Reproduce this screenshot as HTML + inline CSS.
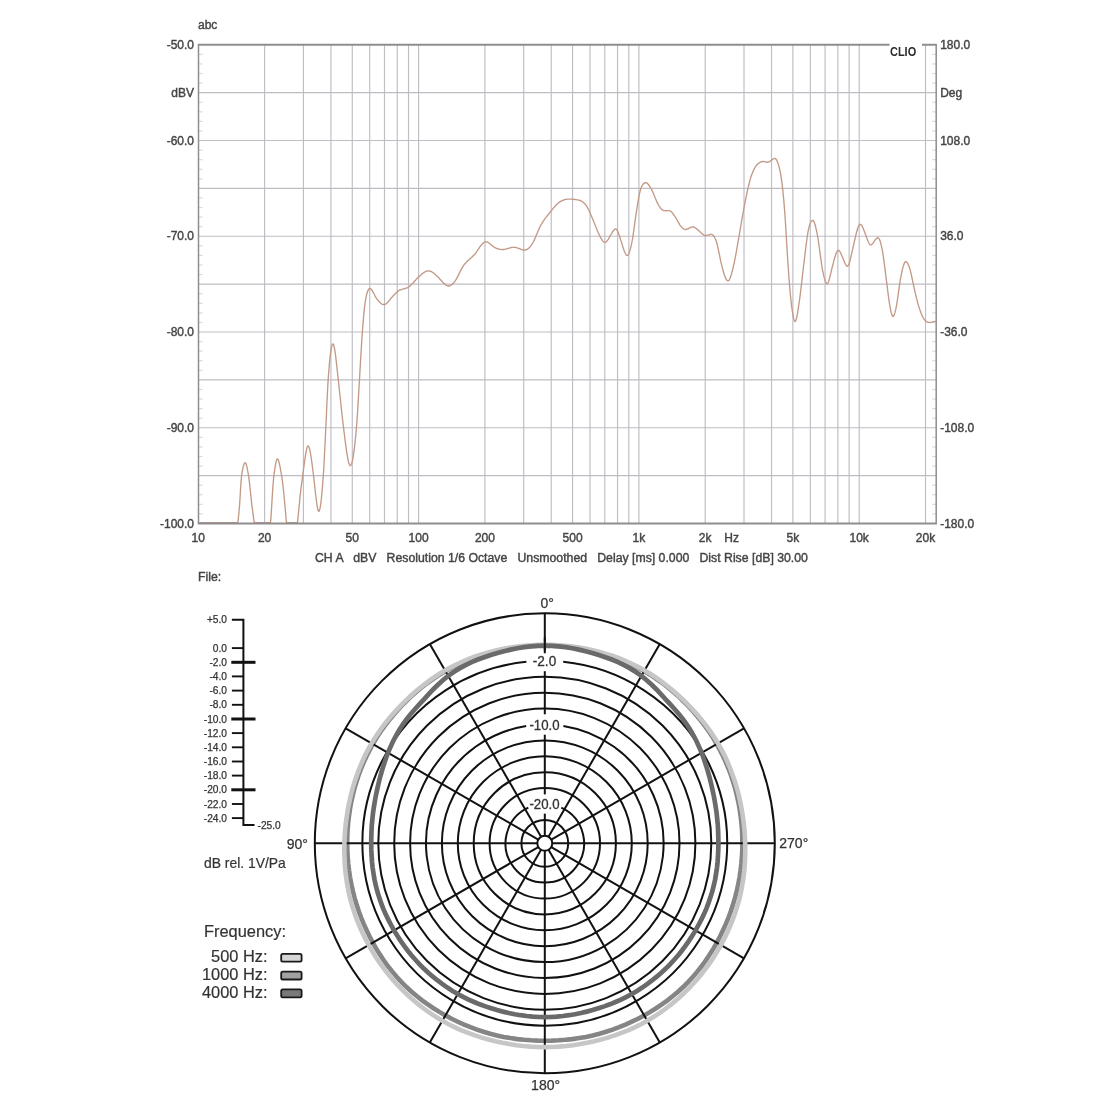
<!DOCTYPE html>
<html lang="en"><head><meta charset="utf-8"><title>CLIO frequency response and polar pattern</title>
<style>html,body{margin:0;padding:0;background:#fff}body{width:1100px;height:1100px;overflow:hidden}svg{display:block}.b1{filter:blur(0.6px)}.b2{filter:blur(0.4px)}</style>
</head><body>
<svg width="1100" height="1100" viewBox="0 0 1100 1100">
<rect width="1100" height="1100" fill="#fff"/>
<g class="b1">
<g stroke="#bdbdc3" stroke-width="1.15" fill="none">
<line x1="198.5" y1="92.67" x2="936.2" y2="92.67"/>
<line x1="198.5" y1="140.54" x2="936.2" y2="140.54"/>
<line x1="198.5" y1="188.41" x2="936.2" y2="188.41"/>
<line x1="198.5" y1="236.28" x2="936.2" y2="236.28"/>
<line x1="198.5" y1="284.15" x2="936.2" y2="284.15"/>
<line x1="198.5" y1="332.02" x2="936.2" y2="332.02"/>
<line x1="198.5" y1="379.89" x2="936.2" y2="379.89"/>
<line x1="198.5" y1="427.76" x2="936.2" y2="427.76"/>
<line x1="198.5" y1="475.63" x2="936.2" y2="475.63"/>
<line x1="264.62" y1="44.8" x2="264.62" y2="523.5"/>
<line x1="303.41" y1="44.8" x2="303.41" y2="523.5"/>
<line x1="330.93" y1="44.8" x2="330.93" y2="523.5"/>
<line x1="352.28" y1="44.8" x2="352.28" y2="523.5"/>
<line x1="369.73" y1="44.8" x2="369.73" y2="523.5"/>
<line x1="384.48" y1="44.8" x2="384.48" y2="523.5"/>
<line x1="397.25" y1="44.8" x2="397.25" y2="523.5"/>
<line x1="408.52" y1="44.8" x2="408.52" y2="523.5"/>
<line x1="418.60" y1="44.8" x2="418.60" y2="523.5"/>
<line x1="484.92" y1="44.8" x2="484.92" y2="523.5"/>
<line x1="523.71" y1="44.8" x2="523.71" y2="523.5"/>
<line x1="551.23" y1="44.8" x2="551.23" y2="523.5"/>
<line x1="572.58" y1="44.8" x2="572.58" y2="523.5"/>
<line x1="590.03" y1="44.8" x2="590.03" y2="523.5"/>
<line x1="604.78" y1="44.8" x2="604.78" y2="523.5"/>
<line x1="617.55" y1="44.8" x2="617.55" y2="523.5"/>
<line x1="628.82" y1="44.8" x2="628.82" y2="523.5"/>
<line x1="638.90" y1="44.8" x2="638.90" y2="523.5"/>
<line x1="705.22" y1="44.8" x2="705.22" y2="523.5"/>
<line x1="744.01" y1="44.8" x2="744.01" y2="523.5"/>
<line x1="771.53" y1="44.8" x2="771.53" y2="523.5"/>
<line x1="792.88" y1="44.8" x2="792.88" y2="523.5"/>
<line x1="810.33" y1="44.8" x2="810.33" y2="523.5"/>
<line x1="825.08" y1="44.8" x2="825.08" y2="523.5"/>
<line x1="837.85" y1="44.8" x2="837.85" y2="523.5"/>
<line x1="849.12" y1="44.8" x2="849.12" y2="523.5"/>
<line x1="859.20" y1="44.8" x2="859.20" y2="523.5"/>
<line x1="925.52" y1="44.8" x2="925.52" y2="523.5"/>
</g>
<g stroke="#dadada" stroke-width="1.2">
<line x1="198.5" y1="54.37" x2="202.5" y2="54.37"/>
<line x1="932.2" y1="54.37" x2="936.2" y2="54.37"/>
<line x1="198.5" y1="63.95" x2="202.5" y2="63.95"/>
<line x1="932.2" y1="63.95" x2="936.2" y2="63.95"/>
<line x1="198.5" y1="73.52" x2="202.5" y2="73.52"/>
<line x1="932.2" y1="73.52" x2="936.2" y2="73.52"/>
<line x1="198.5" y1="83.10" x2="202.5" y2="83.10"/>
<line x1="932.2" y1="83.10" x2="936.2" y2="83.10"/>
<line x1="198.5" y1="102.24" x2="202.5" y2="102.24"/>
<line x1="932.2" y1="102.24" x2="936.2" y2="102.24"/>
<line x1="198.5" y1="111.82" x2="202.5" y2="111.82"/>
<line x1="932.2" y1="111.82" x2="936.2" y2="111.82"/>
<line x1="198.5" y1="121.39" x2="202.5" y2="121.39"/>
<line x1="932.2" y1="121.39" x2="936.2" y2="121.39"/>
<line x1="198.5" y1="130.97" x2="202.5" y2="130.97"/>
<line x1="932.2" y1="130.97" x2="936.2" y2="130.97"/>
<line x1="198.5" y1="150.11" x2="202.5" y2="150.11"/>
<line x1="932.2" y1="150.11" x2="936.2" y2="150.11"/>
<line x1="198.5" y1="159.69" x2="202.5" y2="159.69"/>
<line x1="932.2" y1="159.69" x2="936.2" y2="159.69"/>
<line x1="198.5" y1="169.26" x2="202.5" y2="169.26"/>
<line x1="932.2" y1="169.26" x2="936.2" y2="169.26"/>
<line x1="198.5" y1="178.84" x2="202.5" y2="178.84"/>
<line x1="932.2" y1="178.84" x2="936.2" y2="178.84"/>
<line x1="198.5" y1="197.98" x2="202.5" y2="197.98"/>
<line x1="932.2" y1="197.98" x2="936.2" y2="197.98"/>
<line x1="198.5" y1="207.56" x2="202.5" y2="207.56"/>
<line x1="932.2" y1="207.56" x2="936.2" y2="207.56"/>
<line x1="198.5" y1="217.13" x2="202.5" y2="217.13"/>
<line x1="932.2" y1="217.13" x2="936.2" y2="217.13"/>
<line x1="198.5" y1="226.71" x2="202.5" y2="226.71"/>
<line x1="932.2" y1="226.71" x2="936.2" y2="226.71"/>
<line x1="198.5" y1="245.85" x2="202.5" y2="245.85"/>
<line x1="932.2" y1="245.85" x2="936.2" y2="245.85"/>
<line x1="198.5" y1="255.43" x2="202.5" y2="255.43"/>
<line x1="932.2" y1="255.43" x2="936.2" y2="255.43"/>
<line x1="198.5" y1="265.00" x2="202.5" y2="265.00"/>
<line x1="932.2" y1="265.00" x2="936.2" y2="265.00"/>
<line x1="198.5" y1="274.58" x2="202.5" y2="274.58"/>
<line x1="932.2" y1="274.58" x2="936.2" y2="274.58"/>
<line x1="198.5" y1="293.72" x2="202.5" y2="293.72"/>
<line x1="932.2" y1="293.72" x2="936.2" y2="293.72"/>
<line x1="198.5" y1="303.30" x2="202.5" y2="303.30"/>
<line x1="932.2" y1="303.30" x2="936.2" y2="303.30"/>
<line x1="198.5" y1="312.87" x2="202.5" y2="312.87"/>
<line x1="932.2" y1="312.87" x2="936.2" y2="312.87"/>
<line x1="198.5" y1="322.45" x2="202.5" y2="322.45"/>
<line x1="932.2" y1="322.45" x2="936.2" y2="322.45"/>
<line x1="198.5" y1="341.59" x2="202.5" y2="341.59"/>
<line x1="932.2" y1="341.59" x2="936.2" y2="341.59"/>
<line x1="198.5" y1="351.17" x2="202.5" y2="351.17"/>
<line x1="932.2" y1="351.17" x2="936.2" y2="351.17"/>
<line x1="198.5" y1="360.74" x2="202.5" y2="360.74"/>
<line x1="932.2" y1="360.74" x2="936.2" y2="360.74"/>
<line x1="198.5" y1="370.32" x2="202.5" y2="370.32"/>
<line x1="932.2" y1="370.32" x2="936.2" y2="370.32"/>
<line x1="198.5" y1="389.46" x2="202.5" y2="389.46"/>
<line x1="932.2" y1="389.46" x2="936.2" y2="389.46"/>
<line x1="198.5" y1="399.04" x2="202.5" y2="399.04"/>
<line x1="932.2" y1="399.04" x2="936.2" y2="399.04"/>
<line x1="198.5" y1="408.61" x2="202.5" y2="408.61"/>
<line x1="932.2" y1="408.61" x2="936.2" y2="408.61"/>
<line x1="198.5" y1="418.19" x2="202.5" y2="418.19"/>
<line x1="932.2" y1="418.19" x2="936.2" y2="418.19"/>
<line x1="198.5" y1="437.33" x2="202.5" y2="437.33"/>
<line x1="932.2" y1="437.33" x2="936.2" y2="437.33"/>
<line x1="198.5" y1="446.91" x2="202.5" y2="446.91"/>
<line x1="932.2" y1="446.91" x2="936.2" y2="446.91"/>
<line x1="198.5" y1="456.48" x2="202.5" y2="456.48"/>
<line x1="932.2" y1="456.48" x2="936.2" y2="456.48"/>
<line x1="198.5" y1="466.06" x2="202.5" y2="466.06"/>
<line x1="932.2" y1="466.06" x2="936.2" y2="466.06"/>
<line x1="198.5" y1="485.20" x2="202.5" y2="485.20"/>
<line x1="932.2" y1="485.20" x2="936.2" y2="485.20"/>
<line x1="198.5" y1="494.78" x2="202.5" y2="494.78"/>
<line x1="932.2" y1="494.78" x2="936.2" y2="494.78"/>
<line x1="198.5" y1="504.35" x2="202.5" y2="504.35"/>
<line x1="932.2" y1="504.35" x2="936.2" y2="504.35"/>
<line x1="198.5" y1="513.93" x2="202.5" y2="513.93"/>
<line x1="932.2" y1="513.93" x2="936.2" y2="513.93"/>
</g>
<path d="M198.5,522.6 L199.0,522.6 L199.5,522.6 L200.0,522.6 L200.5,522.6 L201.0,522.6 L201.5,522.6 L202.0,522.6 L202.5,522.6 L203.0,522.6 L203.5,522.6 L204.0,522.6 L204.5,522.6 L205.0,522.6 L205.5,522.6 L206.0,522.6 L206.5,522.6 L207.0,522.6 L207.5,522.6 L208.0,522.6 L208.5,522.6 L209.0,522.6 L209.5,522.6 L210.0,522.6 L210.5,522.6 L211.0,522.6 L211.5,522.6 L212.0,522.6 L212.5,522.6 L213.0,522.6 L213.5,522.6 L214.0,522.6 L214.5,522.6 L215.0,522.6 L215.5,522.6 L216.0,522.6 L216.5,522.6 L217.0,522.6 L217.5,522.6 L218.0,522.6 L218.5,522.6 L219.0,522.6 L219.5,522.6 L220.0,522.6 L220.5,522.6 L221.0,522.6 L221.5,522.6 L222.0,522.6 L222.5,522.6 L223.0,522.6 L223.5,522.6 L224.0,522.6 L224.5,522.6 L225.0,522.6 L225.5,522.6 L226.0,522.6 L226.5,522.6 L227.0,522.6 L227.5,522.6 L228.0,522.6 L228.5,522.6 L229.0,522.6 L229.5,522.6 L230.0,522.6 L230.5,522.6 L231.0,522.6 L231.5,522.6 L232.0,522.6 L232.5,522.6 L233.0,522.6 L233.5,522.6 L234.0,522.6 L234.5,522.6 L235.0,522.6 L235.5,522.6 L236.0,522.6 L236.5,522.6 L237.0,522.6 L237.5,522.6 L238.0,521.3 L238.5,516.6 L239.0,511.7 L239.5,506.1 L240.0,498.5 L240.5,490.0 L241.0,482.0 L241.5,476.3 L242.0,472.9 L242.5,470.1 L243.0,467.6 L243.5,465.7 L244.0,464.2 L244.5,463.2 L245.0,462.7 L245.5,462.8 L246.0,463.7 L246.5,465.3 L247.0,467.4 L247.5,469.9 L248.0,472.6 L248.5,475.5 L249.0,478.9 L249.5,483.0 L250.0,487.6 L250.5,492.5 L251.0,497.3 L251.5,501.9 L252.0,506.0 L252.5,509.9 L253.0,513.7 L253.5,517.6 L254.0,521.7 L254.5,522.6 L255.0,522.6 L255.5,522.6 L256.0,522.6 L256.5,522.6 L257.0,522.6 L257.5,522.6 L258.0,522.6 L258.5,522.6 L259.0,522.6 L259.5,522.6 L260.0,522.6 L260.5,522.6 L261.0,522.6 L261.5,522.6 L262.0,522.6 L262.5,522.6 L263.0,522.6 L263.5,522.6 L264.0,522.6 L264.5,522.6 L265.0,522.6 L265.5,522.6 L266.0,522.6 L266.5,522.6 L267.0,522.6 L267.5,522.6 L268.0,522.6 L268.5,522.6 L269.0,522.6 L269.5,522.6 L270.0,522.6 L270.5,522.6 L271.0,516.6 L271.5,508.9 L272.0,500.8 L272.5,492.7 L273.0,485.4 L273.5,479.2 L274.0,474.7 L274.5,471.1 L275.0,467.7 L275.5,464.7 L276.0,462.2 L276.5,460.3 L277.0,459.2 L277.5,458.9 L278.0,459.4 L278.5,460.5 L279.0,462.1 L279.5,464.2 L280.0,466.6 L280.5,469.3 L281.0,472.1 L281.5,474.9 L282.0,478.0 L282.5,481.6 L283.0,485.8 L283.5,490.5 L284.0,495.5 L284.5,500.8 L285.0,506.3 L285.5,512.0 L286.0,517.7 L286.5,522.6 L287.0,522.6 L287.5,522.6 L288.0,522.6 L288.5,522.6 L289.0,522.6 L289.5,522.6 L290.0,522.6 L290.5,522.6 L291.0,522.6 L291.5,522.6 L292.0,522.6 L292.5,522.6 L293.0,522.6 L293.5,522.6 L294.0,522.6 L294.5,522.6 L295.0,522.6 L295.5,522.6 L296.0,522.6 L296.5,522.6 L297.0,522.6 L297.5,522.6 L298.0,518.0 L298.5,512.7 L299.0,507.6 L299.5,502.6 L300.0,496.9 L300.5,492.5 L301.0,488.4 L301.5,484.4 L302.0,480.6 L302.5,477.0 L303.0,473.3 L303.5,469.5 L304.0,465.8 L304.5,462.1 L305.0,458.5 L305.5,455.2 L306.0,452.3 L306.5,449.8 L307.0,447.8 L307.5,446.5 L308.0,445.9 L308.5,446.1 L309.0,447.0 L309.5,448.6 L310.0,450.8 L310.5,453.4 L311.0,456.5 L311.5,460.0 L312.0,463.7 L312.5,467.5 L313.0,471.5 L313.5,475.5 L314.0,479.7 L314.5,484.1 L315.0,488.7 L315.5,493.2 L316.0,497.5 L316.5,501.5 L317.0,505.1 L317.5,508.0 L318.0,510.1 L318.5,511.2 L319.0,511.3 L319.5,510.4 L320.0,508.4 L320.5,505.5 L321.0,501.8 L321.5,497.3 L322.0,492.0 L322.5,486.1 L323.0,479.6 L323.5,472.5 L324.0,464.2 L324.5,454.7 L325.0,444.5 L325.5,434.1 L326.0,423.7 L326.5,412.6 L327.0,401.6 L327.5,391.2 L328.0,382.2 L328.5,374.8 L329.0,368.3 L329.5,362.6 L330.0,357.6 L330.5,353.3 L331.0,349.9 L331.5,347.2 L332.0,345.3 L332.5,344.2 L333.0,344.0 L333.5,344.5 L334.0,346.0 L334.5,348.4 L335.0,351.4 L335.5,355.0 L336.0,359.1 L336.5,363.5 L337.0,368.1 L337.5,372.7 L338.0,377.3 L338.5,381.8 L339.0,386.4 L339.5,391.0 L340.0,395.7 L340.5,400.5 L341.0,405.2 L341.5,409.9 L342.0,414.4 L342.5,418.9 L343.0,423.3 L343.5,427.4 L344.0,431.4 L344.5,435.4 L345.0,439.4 L345.5,443.3 L346.0,447.1 L346.5,450.7 L347.0,454.0 L347.5,457.0 L348.0,459.6 L348.5,461.9 L349.0,463.6 L349.5,464.8 L350.0,465.5 L350.5,465.6 L351.0,465.1 L351.5,464.0 L352.0,462.5 L352.5,460.4 L353.0,457.8 L353.5,454.7 L354.0,451.2 L354.5,447.2 L355.0,442.8 L355.5,437.9 L356.0,432.7 L356.5,427.0 L357.0,420.5 L357.5,413.0 L358.0,404.9 L358.5,396.4 L359.0,387.7 L359.5,379.1 L360.0,370.5 L360.5,361.8 L361.0,353.2 L361.5,345.0 L362.0,337.3 L362.5,330.4 L363.0,323.9 L363.5,317.8 L364.0,312.3 L364.5,307.4 L365.0,303.3 L365.5,300.0 L366.0,297.4 L366.5,295.1 L367.0,293.2 L367.5,291.7 L368.0,290.4 L368.5,289.5 L369.0,288.9 L369.5,288.6 L370.0,288.5 L370.5,288.7 L371.0,289.0 L371.5,289.6 L372.0,290.3 L372.5,291.0 L373.0,291.9 L373.5,292.8 L374.0,293.8 L374.5,294.8 L375.0,295.8 L375.5,296.7 L376.0,297.6 L376.5,298.3 L377.0,299.1 L377.5,299.8 L378.0,300.4 L378.5,301.0 L379.0,301.6 L379.5,302.1 L380.0,302.6 L380.5,303.1 L381.0,303.5 L381.5,303.8 L382.0,304.1 L382.5,304.3 L383.0,304.4 L383.5,304.5 L384.0,304.6 L384.5,304.5 L385.0,304.4 L385.5,304.2 L386.0,303.9 L386.5,303.5 L387.0,303.1 L387.5,302.6 L388.0,302.1 L388.5,301.5 L389.0,300.9 L389.5,300.3 L390.0,299.7 L390.5,299.1 L391.0,298.4 L391.5,297.8 L392.0,297.2 L392.5,296.6 L393.0,296.1 L393.5,295.5 L394.0,295.0 L394.5,294.4 L395.0,293.9 L395.5,293.4 L396.0,292.9 L396.5,292.4 L397.0,291.9 L397.5,291.5 L398.0,291.1 L398.5,290.8 L399.0,290.5 L399.5,290.2 L400.0,290.0 L400.5,289.8 L401.0,289.6 L401.5,289.5 L402.0,289.3 L402.5,289.2 L403.0,289.1 L403.5,288.9 L404.0,288.8 L404.5,288.7 L405.0,288.5 L405.5,288.4 L406.0,288.2 L406.5,288.1 L407.0,287.9 L407.5,287.7 L408.0,287.4 L408.5,287.1 L409.0,286.8 L409.5,286.4 L410.0,286.0 L410.5,285.6 L411.0,285.1 L411.5,284.6 L412.0,284.1 L412.5,283.6 L413.0,283.0 L413.5,282.5 L414.0,281.9 L414.5,281.3 L415.0,280.7 L415.5,280.2 L416.0,279.6 L416.5,279.0 L417.0,278.5 L417.5,278.0 L418.0,277.5 L418.5,277.0 L419.0,276.5 L419.5,276.1 L420.0,275.6 L420.5,275.2 L421.0,274.7 L421.5,274.3 L422.0,273.9 L422.5,273.5 L423.0,273.1 L423.5,272.8 L424.0,272.4 L424.5,272.1 L425.0,271.9 L425.5,271.6 L426.0,271.4 L426.5,271.2 L427.0,271.1 L427.5,271.0 L428.0,270.9 L428.5,270.9 L429.0,270.9 L429.5,271.0 L430.0,271.1 L430.5,271.3 L431.0,271.5 L431.5,271.7 L432.0,272.0 L432.5,272.3 L433.0,272.7 L433.5,273.0 L434.0,273.4 L434.5,273.9 L435.0,274.3 L435.5,274.7 L436.0,275.2 L436.5,275.7 L437.0,276.1 L437.5,276.6 L438.0,277.1 L438.5,277.6 L439.0,278.1 L439.5,278.6 L440.0,279.2 L440.5,279.7 L441.0,280.3 L441.5,280.8 L442.0,281.4 L442.5,281.9 L443.0,282.4 L443.5,283.0 L444.0,283.4 L444.5,283.9 L445.0,284.3 L445.5,284.7 L446.0,285.1 L446.5,285.4 L447.0,285.6 L447.5,285.8 L448.0,285.9 L448.5,286.0 L449.0,286.0 L449.5,285.9 L450.0,285.7 L450.5,285.5 L451.0,285.2 L451.5,284.9 L452.0,284.5 L452.5,284.0 L453.0,283.5 L453.5,283.0 L454.0,282.4 L454.5,281.8 L455.0,281.1 L455.5,280.4 L456.0,279.6 L456.5,278.7 L457.0,277.8 L457.5,276.9 L458.0,275.9 L458.5,274.9 L459.0,273.9 L459.5,272.9 L460.0,271.9 L460.5,270.9 L461.0,269.9 L461.5,269.0 L462.0,268.1 L462.5,267.2 L463.0,266.4 L463.5,265.6 L464.0,264.9 L464.5,264.3 L465.0,263.7 L465.5,263.1 L466.0,262.5 L466.5,262.0 L467.0,261.5 L467.5,261.0 L468.0,260.6 L468.5,260.1 L469.0,259.7 L469.5,259.2 L470.0,258.8 L470.5,258.4 L471.0,257.9 L471.5,257.5 L472.0,257.0 L472.5,256.6 L473.0,256.1 L473.5,255.6 L474.0,255.1 L474.5,254.5 L475.0,253.9 L475.5,253.3 L476.0,252.6 L476.5,251.9 L477.0,251.2 L477.5,250.4 L478.0,249.7 L478.5,248.9 L479.0,248.2 L479.5,247.5 L480.0,246.7 L480.5,246.0 L481.0,245.4 L481.5,244.8 L482.0,244.2 L482.5,243.6 L483.0,243.2 L483.5,242.7 L484.0,242.4 L484.5,242.1 L485.0,241.9 L485.5,241.8 L486.0,241.8 L486.5,241.8 L487.0,242.0 L487.5,242.1 L488.0,242.4 L488.5,242.7 L489.0,243.0 L489.5,243.4 L490.0,243.8 L490.5,244.2 L491.0,244.6 L491.5,245.0 L492.0,245.4 L492.5,245.9 L493.0,246.3 L493.5,246.6 L494.0,247.0 L494.5,247.3 L495.0,247.6 L495.5,247.8 L496.0,248.1 L496.5,248.3 L497.0,248.5 L497.5,248.7 L498.0,248.9 L498.5,249.0 L499.0,249.2 L499.5,249.3 L500.0,249.4 L500.5,249.4 L501.0,249.5 L501.5,249.5 L502.0,249.6 L502.5,249.6 L503.0,249.5 L503.5,249.5 L504.0,249.5 L504.5,249.4 L505.0,249.3 L505.5,249.2 L506.0,249.0 L506.5,248.9 L507.0,248.8 L507.5,248.6 L508.0,248.5 L508.5,248.3 L509.0,248.2 L509.5,248.0 L510.0,247.9 L510.5,247.8 L511.0,247.6 L511.5,247.5 L512.0,247.4 L512.5,247.4 L513.0,247.3 L513.5,247.3 L514.0,247.3 L514.5,247.3 L515.0,247.4 L515.5,247.4 L516.0,247.5 L516.5,247.7 L517.0,247.8 L517.5,248.0 L518.0,248.2 L518.5,248.3 L519.0,248.5 L519.5,248.7 L520.0,248.9 L520.5,249.1 L521.0,249.3 L521.5,249.5 L522.0,249.6 L522.5,249.8 L523.0,249.9 L523.5,250.0 L524.0,250.0 L524.5,250.0 L525.0,250.0 L525.5,250.0 L526.0,249.9 L526.5,249.7 L527.0,249.5 L527.5,249.2 L528.0,248.8 L528.5,248.4 L529.0,248.0 L529.5,247.4 L530.0,246.9 L530.5,246.2 L531.0,245.6 L531.5,244.9 L532.0,244.1 L532.5,243.3 L533.0,242.5 L533.5,241.6 L534.0,240.6 L534.5,239.5 L535.0,238.4 L535.5,237.2 L536.0,236.0 L536.5,234.8 L537.0,233.6 L537.5,232.4 L538.0,231.2 L538.5,230.0 L539.0,228.9 L539.5,227.8 L540.0,226.8 L540.5,225.8 L541.0,224.9 L541.5,224.1 L542.0,223.2 L542.5,222.4 L543.0,221.6 L543.5,220.8 L544.0,220.1 L544.5,219.4 L545.0,218.7 L545.5,218.0 L546.0,217.4 L546.5,216.7 L547.0,216.1 L547.5,215.5 L548.0,214.8 L548.5,214.2 L549.0,213.6 L549.5,213.0 L550.0,212.4 L550.5,211.7 L551.0,211.1 L551.5,210.5 L552.0,209.9 L552.5,209.2 L553.0,208.6 L553.5,208.0 L554.0,207.4 L554.5,206.9 L555.0,206.3 L555.5,205.7 L556.0,205.2 L556.5,204.7 L557.0,204.2 L557.5,203.7 L558.0,203.3 L558.5,202.9 L559.0,202.5 L559.5,202.1 L560.0,201.8 L560.5,201.5 L561.0,201.2 L561.5,201.0 L562.0,200.7 L562.5,200.5 L563.0,200.3 L563.5,200.1 L564.0,199.9 L564.5,199.7 L565.0,199.6 L565.5,199.5 L566.0,199.4 L566.5,199.3 L567.0,199.2 L567.5,199.1 L568.0,199.1 L568.5,199.1 L569.0,199.1 L569.5,199.1 L570.0,199.1 L570.5,199.1 L571.0,199.1 L571.5,199.1 L572.0,199.1 L572.5,199.2 L573.0,199.2 L573.5,199.3 L574.0,199.3 L574.5,199.4 L575.0,199.5 L575.5,199.5 L576.0,199.6 L576.5,199.7 L577.0,199.8 L577.5,199.9 L578.0,200.0 L578.5,200.1 L579.0,200.2 L579.5,200.3 L580.0,200.5 L580.5,200.7 L581.0,200.9 L581.5,201.2 L582.0,201.5 L582.5,201.8 L583.0,202.1 L583.5,202.5 L584.0,203.0 L584.5,203.4 L585.0,203.9 L585.5,204.5 L586.0,205.1 L586.5,205.9 L587.0,206.7 L587.5,207.5 L588.0,208.5 L588.5,209.5 L589.0,210.5 L589.5,211.6 L590.0,212.7 L590.5,213.9 L591.0,215.1 L591.5,216.3 L592.0,217.4 L592.5,218.6 L593.0,219.8 L593.5,221.0 L594.0,222.3 L594.5,223.5 L595.0,224.8 L595.5,226.1 L596.0,227.3 L596.5,228.6 L597.0,229.8 L597.5,231.0 L598.0,232.2 L598.5,233.3 L599.0,234.4 L599.5,235.4 L600.0,236.4 L600.5,237.3 L601.0,238.2 L601.5,239.1 L602.0,239.8 L602.5,240.6 L603.0,241.2 L603.5,241.7 L604.0,242.1 L604.5,242.3 L605.0,242.4 L605.5,242.3 L606.0,242.0 L606.5,241.6 L607.0,241.1 L607.5,240.4 L608.0,239.7 L608.5,238.9 L609.0,238.0 L609.5,237.1 L610.0,236.2 L610.5,235.3 L611.0,234.5 L611.5,233.7 L612.0,232.8 L612.5,232.0 L613.0,231.2 L613.5,230.6 L614.0,230.0 L614.5,229.5 L615.0,229.2 L615.5,229.0 L616.0,229.1 L616.5,229.4 L617.0,230.1 L617.5,231.0 L618.0,232.1 L618.5,233.4 L619.0,234.8 L619.5,236.3 L620.0,237.8 L620.5,239.4 L621.0,240.9 L621.5,242.4 L622.0,244.0 L622.5,245.6 L623.0,247.2 L623.5,248.7 L624.0,250.2 L624.5,251.5 L625.0,252.8 L625.5,253.8 L626.0,254.6 L626.5,255.2 L627.0,255.5 L627.5,255.4 L628.0,255.1 L628.5,254.3 L629.0,253.3 L629.5,251.9 L630.0,250.3 L630.5,248.5 L631.0,246.4 L631.5,244.1 L632.0,241.7 L632.5,238.9 L633.0,235.8 L633.5,232.4 L634.0,228.9 L634.5,225.2 L635.0,221.5 L635.5,217.9 L636.0,214.4 L636.5,211.2 L637.0,208.0 L637.5,204.9 L638.0,201.8 L638.5,198.9 L639.0,196.2 L639.5,193.8 L640.0,191.6 L640.5,189.7 L641.0,188.2 L641.5,187.0 L642.0,185.9 L642.5,185.0 L643.0,184.3 L643.5,183.7 L644.0,183.2 L644.5,182.9 L645.0,182.7 L645.5,182.7 L646.0,182.7 L646.5,182.9 L647.0,183.2 L647.5,183.6 L648.0,184.1 L648.5,184.7 L649.0,185.3 L649.5,186.1 L650.0,186.8 L650.5,187.7 L651.0,188.5 L651.5,189.4 L652.0,190.4 L652.5,191.4 L653.0,192.5 L653.5,193.7 L654.0,194.9 L654.5,196.1 L655.0,197.4 L655.5,198.6 L656.0,199.8 L656.5,201.0 L657.0,202.1 L657.5,203.2 L658.0,204.1 L658.5,205.0 L659.0,205.8 L659.5,206.6 L660.0,207.3 L660.5,208.0 L661.0,208.6 L661.5,209.2 L662.0,209.6 L662.5,210.0 L663.0,210.3 L663.5,210.5 L664.0,210.6 L664.5,210.6 L665.0,210.7 L665.5,210.7 L666.0,210.7 L666.5,210.7 L667.0,210.6 L667.5,210.6 L668.0,210.6 L668.5,210.6 L669.0,210.7 L669.5,210.8 L670.0,210.9 L670.5,211.1 L671.0,211.4 L671.5,211.9 L672.0,212.4 L672.5,212.9 L673.0,213.6 L673.5,214.3 L674.0,215.0 L674.5,215.8 L675.0,216.5 L675.5,217.3 L676.0,218.1 L676.5,219.0 L677.0,219.8 L677.5,220.8 L678.0,221.7 L678.5,222.6 L679.0,223.4 L679.5,224.3 L680.0,225.1 L680.5,225.8 L681.0,226.4 L681.5,227.0 L682.0,227.5 L682.5,228.0 L683.0,228.4 L683.5,228.8 L684.0,229.1 L684.5,229.3 L685.0,229.4 L685.5,229.5 L686.0,229.5 L686.5,229.4 L687.0,229.2 L687.5,229.0 L688.0,228.8 L688.5,228.5 L689.0,228.3 L689.5,228.0 L690.0,227.7 L690.5,227.5 L691.0,227.3 L691.5,227.1 L692.0,227.0 L692.5,226.9 L693.0,226.9 L693.5,227.0 L694.0,227.1 L694.5,227.4 L695.0,227.6 L695.5,228.0 L696.0,228.3 L696.5,228.7 L697.0,229.1 L697.5,229.6 L698.0,230.0 L698.5,230.5 L699.0,230.9 L699.5,231.3 L700.0,231.8 L700.5,232.3 L701.0,232.7 L701.5,233.2 L702.0,233.6 L702.5,234.1 L703.0,234.4 L703.5,234.8 L704.0,235.1 L704.5,235.3 L705.0,235.4 L705.5,235.5 L706.0,235.5 L706.5,235.4 L707.0,235.3 L707.5,235.2 L708.0,235.1 L708.5,234.9 L709.0,234.8 L709.5,234.6 L710.0,234.5 L710.5,234.4 L711.0,234.4 L711.5,234.4 L712.0,234.5 L712.5,234.8 L713.0,235.2 L713.5,235.7 L714.0,236.4 L714.5,237.2 L715.0,238.2 L715.5,239.3 L716.0,240.5 L716.5,242.0 L717.0,243.7 L717.5,245.8 L718.0,248.0 L718.5,250.3 L719.0,252.8 L719.5,255.2 L720.0,257.7 L720.5,260.1 L721.0,262.3 L721.5,264.4 L722.0,266.4 L722.5,268.3 L723.0,270.2 L723.5,272.0 L724.0,273.7 L724.5,275.2 L725.0,276.6 L725.5,277.9 L726.0,278.9 L726.5,279.8 L727.0,280.4 L727.5,280.8 L728.0,280.9 L728.5,280.8 L729.0,280.3 L729.5,279.5 L730.0,278.4 L730.5,277.1 L731.0,275.6 L731.5,273.9 L732.0,272.0 L732.5,270.1 L733.0,268.0 L733.5,265.9 L734.0,263.7 L734.5,261.4 L735.0,258.9 L735.5,256.3 L736.0,253.6 L736.5,250.8 L737.0,247.9 L737.5,245.1 L738.0,242.2 L738.5,239.3 L739.0,236.4 L739.5,233.5 L740.0,230.6 L740.5,227.7 L741.0,224.8 L741.5,221.9 L742.0,219.0 L742.5,216.1 L743.0,213.3 L743.5,210.5 L744.0,207.8 L744.5,205.1 L745.0,202.5 L745.5,200.0 L746.0,197.6 L746.5,195.2 L747.0,192.8 L747.5,190.5 L748.0,188.3 L748.5,186.1 L749.0,184.0 L749.5,182.1 L750.0,180.2 L750.5,178.4 L751.0,176.8 L751.5,175.3 L752.0,174.0 L752.5,172.7 L753.0,171.5 L753.5,170.4 L754.0,169.4 L754.5,168.4 L755.0,167.5 L755.5,166.7 L756.0,166.0 L756.5,165.3 L757.0,164.7 L757.5,164.2 L758.0,163.8 L758.5,163.4 L759.0,163.0 L759.5,162.7 L760.0,162.4 L760.5,162.1 L761.0,161.9 L761.5,161.7 L762.0,161.6 L762.5,161.5 L763.0,161.5 L763.5,161.5 L764.0,161.6 L764.5,161.7 L765.0,161.8 L765.5,161.9 L766.0,162.0 L766.5,162.2 L767.0,162.2 L767.5,162.3 L768.0,162.2 L768.5,162.1 L769.0,161.9 L769.5,161.6 L770.0,161.3 L770.5,160.9 L771.0,160.5 L771.5,160.1 L772.0,159.7 L772.5,159.3 L773.0,159.0 L773.5,158.7 L774.0,158.6 L774.5,158.5 L775.0,158.5 L775.5,158.7 L776.0,159.1 L776.5,159.8 L777.0,160.7 L777.5,161.9 L778.0,163.3 L778.5,164.9 L779.0,166.7 L779.5,168.7 L780.0,170.9 L780.5,173.4 L781.0,176.3 L781.5,179.6 L782.0,183.4 L782.5,187.6 L783.0,192.2 L783.5,197.4 L784.0,202.9 L784.5,209.0 L785.0,215.8 L785.5,223.4 L786.0,231.6 L786.5,240.0 L787.0,248.5 L787.5,256.7 L788.0,264.4 L788.5,271.5 L789.0,278.2 L789.5,284.5 L790.0,290.4 L790.5,295.8 L791.0,300.7 L791.5,305.0 L792.0,308.7 L792.5,312.1 L793.0,315.1 L793.5,317.7 L794.0,319.7 L794.5,321.0 L795.0,321.5 L795.5,321.1 L796.0,320.0 L796.5,318.3 L797.0,316.0 L797.5,313.2 L798.0,310.2 L798.5,306.9 L799.0,303.6 L799.5,300.1 L800.0,296.3 L800.5,292.4 L801.0,288.2 L801.5,283.9 L802.0,279.6 L802.5,275.2 L803.0,270.8 L803.5,266.5 L804.0,262.3 L804.5,258.2 L805.0,254.2 L805.5,250.1 L806.0,246.1 L806.5,242.2 L807.0,238.5 L807.5,235.1 L808.0,232.1 L808.5,229.4 L809.0,227.3 L809.5,225.5 L810.0,224.0 L810.5,222.8 L811.0,221.8 L811.5,221.0 L812.0,220.6 L812.5,220.4 L813.0,220.5 L813.5,220.9 L814.0,221.8 L814.5,223.0 L815.0,224.5 L815.5,226.3 L816.0,228.3 L816.5,230.6 L817.0,233.0 L817.5,235.6 L818.0,238.5 L818.5,241.8 L819.0,245.3 L819.5,249.0 L820.0,252.8 L820.5,256.6 L821.0,260.2 L821.5,263.7 L822.0,267.0 L822.5,269.9 L823.0,272.4 L823.5,274.7 L824.0,276.8 L824.5,278.7 L825.0,280.4 L825.5,281.7 L826.0,282.7 L826.5,283.4 L827.0,283.7 L827.5,283.5 L828.0,282.8 L828.5,281.7 L829.0,280.2 L829.5,278.4 L830.0,276.5 L830.5,274.4 L831.0,272.3 L831.5,270.2 L832.0,268.2 L832.5,266.2 L833.0,264.3 L833.5,262.3 L834.0,260.3 L834.5,258.5 L835.0,256.7 L835.5,255.2 L836.0,253.7 L836.5,252.5 L837.0,251.5 L837.5,250.9 L838.0,250.5 L838.5,250.4 L839.0,250.6 L839.5,251.1 L840.0,251.8 L840.5,252.7 L841.0,253.7 L841.5,254.9 L842.0,256.1 L842.5,257.3 L843.0,258.6 L843.5,259.8 L844.0,260.9 L844.5,262.1 L845.0,263.3 L845.5,264.3 L846.0,265.2 L846.5,265.9 L847.0,266.3 L847.5,266.3 L848.0,266.0 L848.5,265.2 L849.0,264.0 L849.5,262.5 L850.0,260.7 L850.5,258.7 L851.0,256.5 L851.5,254.3 L852.0,252.1 L852.5,249.9 L853.0,247.7 L853.5,245.5 L854.0,243.3 L854.5,241.0 L855.0,238.8 L855.5,236.6 L856.0,234.5 L856.5,232.5 L857.0,230.7 L857.5,229.0 L858.0,227.5 L858.5,226.3 L859.0,225.3 L859.5,224.7 L860.0,224.3 L860.5,224.3 L861.0,224.6 L861.5,225.2 L862.0,225.9 L862.5,226.9 L863.0,228.0 L863.5,229.2 L864.0,230.5 L864.5,231.8 L865.0,233.2 L865.5,234.5 L866.0,235.8 L866.5,237.2 L867.0,238.6 L867.5,239.9 L868.0,241.2 L868.5,242.3 L869.0,243.3 L869.5,244.1 L870.0,244.6 L870.5,244.9 L871.0,244.9 L871.5,244.7 L872.0,244.3 L872.5,243.8 L873.0,243.2 L873.5,242.5 L874.0,241.7 L874.5,241.0 L875.0,240.2 L875.5,239.5 L876.0,238.9 L876.5,238.4 L877.0,238.0 L877.5,237.8 L878.0,237.7 L878.5,238.0 L879.0,238.6 L879.5,239.5 L880.0,240.8 L880.5,242.4 L881.0,244.2 L881.5,246.3 L882.0,248.6 L882.5,251.2 L883.0,254.2 L883.5,257.6 L884.0,261.2 L884.5,265.1 L885.0,269.1 L885.5,273.1 L886.0,277.2 L886.5,281.1 L887.0,285.0 L887.5,289.0 L888.0,292.9 L888.5,296.7 L889.0,300.3 L889.5,303.6 L890.0,306.6 L890.5,309.2 L891.0,311.5 L891.5,313.5 L892.0,315.1 L892.5,316.1 L893.0,316.5 L893.5,316.2 L894.0,315.4 L894.5,314.1 L895.0,312.4 L895.5,310.4 L896.0,308.2 L896.5,305.6 L897.0,302.6 L897.5,299.3 L898.0,295.8 L898.5,292.2 L899.0,288.6 L899.5,285.1 L900.0,281.8 L900.5,278.9 L901.0,276.2 L901.5,273.7 L902.0,271.3 L902.5,269.1 L903.0,267.1 L903.5,265.4 L904.0,264.0 L904.5,262.9 L905.0,262.1 L905.5,261.7 L906.0,261.7 L906.5,261.9 L907.0,262.4 L907.5,263.1 L908.0,264.0 L908.5,265.1 L909.0,266.4 L909.5,267.8 L910.0,269.4 L910.5,271.3 L911.0,273.4 L911.5,275.7 L912.0,278.0 L912.5,280.4 L913.0,282.8 L913.5,285.1 L914.0,287.4 L914.5,289.6 L915.0,291.8 L915.5,293.9 L916.0,296.1 L916.5,298.1 L917.0,300.1 L917.5,302.0 L918.0,303.9 L918.5,305.6 L919.0,307.2 L919.5,308.8 L920.0,310.2 L920.5,311.6 L921.0,313.0 L921.5,314.2 L922.0,315.4 L922.5,316.5 L923.0,317.4 L923.5,318.3 L924.0,319.0 L924.5,319.6 L925.0,320.2 L925.5,320.7 L926.0,321.2 L926.5,321.6 L927.0,321.9 L927.5,322.1 L928.0,322.3 L928.5,322.4 L929.0,322.4 L929.5,322.5 L930.0,322.4 L930.5,322.4 L931.0,322.3 L931.5,322.3 L932.0,322.2 L932.5,322.0 L933.0,321.9 L933.5,321.8 L934.0,321.6 L934.5,321.4 L935.0,321.3 L935.5,321.1" fill="none" stroke="#c39a87" stroke-width="1.35" stroke-linejoin="round"/>
<path d="M197.8,44.8 H936.9000000000001 M197.8,523.5 H936.9000000000001" fill="none" stroke="#8e8e8e" stroke-width="2"/>
<path d="M198.5,44.8 V523.5 M936.2,44.8 V523.5" fill="none" stroke="#8e8e8e" stroke-width="1.5"/>
<rect x="889.5" y="40" width="32.5" height="23" fill="#fff"/>
<text x="890" y="56.2" font-family="Liberation Sans, sans-serif" font-weight="bold" font-size="12.4" textLength="26.2" lengthAdjust="spacingAndGlyphs" fill="#2a2a2a">CLIO</text>
<g font-family="Liberation Sans, sans-serif" font-size="12" fill="#444" stroke="#444" stroke-width="0.4">
<text x="198" y="28.7">abc</text>
<text x="194" y="48.9" text-anchor="end">-50.0</text>
<text x="940.2" y="48.9">180.0</text>
<text x="194" y="96.8" text-anchor="end">dBV</text>
<text x="940.2" y="96.8">Deg</text>
<text x="194" y="144.6" text-anchor="end">-60.0</text>
<text x="940.2" y="144.6">108.0</text>
<text x="194" y="240.4" text-anchor="end">-70.0</text>
<text x="940.2" y="240.4">36.0</text>
<text x="194" y="336.1" text-anchor="end">-80.0</text>
<text x="940.2" y="336.1">-36.0</text>
<text x="194" y="431.9" text-anchor="end">-90.0</text>
<text x="940.2" y="431.9">-108.0</text>
<text x="194" y="527.6" text-anchor="end">-100.0</text>
<text x="940.2" y="527.6">-180.0</text>
<text x="198.3" y="541.9" text-anchor="middle">10</text>
<text x="264.6" y="541.9" text-anchor="middle">20</text>
<text x="352.3" y="541.9" text-anchor="middle">50</text>
<text x="418.6" y="541.9" text-anchor="middle">100</text>
<text x="484.9" y="541.9" text-anchor="middle">200</text>
<text x="572.6" y="541.9" text-anchor="middle">500</text>
<text x="638.9" y="541.9" text-anchor="middle">1k</text>
<text x="705.2" y="541.9" text-anchor="middle">2k</text>
<text x="792.9" y="541.9" text-anchor="middle">5k</text>
<text x="859.2" y="541.9" text-anchor="middle">10k</text>
<text x="925.5" y="541.9" text-anchor="middle">20k</text>
<text x="731.6" y="541.9" text-anchor="middle">Hz</text>
</g>
<g font-family="Liberation Sans, sans-serif" font-size="12.27" fill="#444" stroke="#444" stroke-width="0.4">
<text x="315" y="561.5" xml:space="preserve" style="white-space:pre">CH A   dBV   Resolution 1/6 Octave   Unsmoothed   Delay [ms] 0.000   Dist Rise [dB] 30.00</text>
<text x="198" y="581.2">File:</text>
</g>
</g>
<g class="b2">
<path d="M544.8,645.5 L537.9,645.6 L531.0,645.9 L524.1,646.5 L517.2,647.3 L510.4,648.2 L503.6,649.5 L496.8,650.9 L490.1,652.6 L483.5,654.6 L476.9,656.7 L470.4,659.1 L464.0,661.8 L457.7,664.7 L451.5,667.8 L445.4,671.1 L439.5,674.7 L433.7,678.5 L428.0,682.5 L422.5,686.8 L417.1,691.2 L411.9,695.7 L406.9,700.5 L402.0,705.4 L397.3,710.5 L392.8,715.7 L388.4,721.1 L384.2,726.6 L380.2,732.3 L376.4,738.1 L372.9,744.0 L369.6,750.1 L366.5,756.3 L363.6,762.6 L361.0,769.0 L358.5,775.5 L356.4,782.1 L354.4,788.7 L352.7,795.4 L351.2,802.2 L350.0,808.9 L349.0,815.8 L348.2,822.6 L347.6,829.5 L347.3,836.4 L347.2,843.3 L347.3,850.2 L347.7,857.1 L348.3,864.0 L349.1,870.8 L350.1,877.6 L351.4,884.4 L352.9,891.1 L354.6,897.8 L356.6,904.5 L358.7,911.0 L361.1,917.5 L363.7,923.9 L366.6,930.2 L369.6,936.5 L372.8,942.6 L376.2,948.6 L379.9,954.5 L383.7,960.3 L387.8,966.0 L392.1,971.4 L396.6,976.8 L401.3,981.9 L406.2,986.8 L411.3,991.5 L416.7,996.0 L422.1,1000.3 L427.8,1004.4 L433.5,1008.2 L439.4,1011.9 L445.4,1015.4 L451.6,1018.7 L457.8,1021.7 L464.1,1024.6 L470.5,1027.2 L477.0,1029.6 L483.5,1031.8 L490.2,1033.8 L496.9,1035.5 L503.6,1036.9 L510.5,1038.1 L517.3,1039.1 L524.1,1039.8 L531.0,1040.3 L537.9,1040.6 L544.8,1040.7 L551.7,1040.6 L558.6,1040.3 L565.5,1039.8 L572.3,1039.1 L579.1,1038.1 L586.0,1036.9 L592.7,1035.5 L599.4,1033.8 L606.1,1031.8 L612.6,1029.6 L619.1,1027.2 L625.5,1024.6 L631.8,1021.7 L638.0,1018.7 L644.1,1015.4 L650.2,1011.9 L656.1,1008.2 L661.8,1004.4 L667.5,1000.3 L672.9,996.0 L678.3,991.5 L683.4,986.8 L688.3,981.9 L693.0,976.8 L697.5,971.4 L701.8,966.0 L705.9,960.3 L709.7,954.5 L713.4,948.6 L716.8,942.6 L720.0,936.5 L723.0,930.2 L725.9,923.9 L728.5,917.5 L730.9,911.0 L733.0,904.5 L735.0,897.8 L736.7,891.1 L738.2,884.4 L739.5,877.6 L740.5,870.8 L741.3,864.0 L741.9,857.1 L742.3,850.2 L742.4,843.3 L742.3,836.4 L742.0,829.5 L741.4,822.6 L740.6,815.8 L739.6,808.9 L738.4,802.2 L736.9,795.4 L735.2,788.7 L733.2,782.1 L731.1,775.5 L728.6,769.0 L726.0,762.6 L723.1,756.3 L720.0,750.1 L716.7,744.0 L713.2,738.1 L709.4,732.3 L705.4,726.6 L701.2,721.1 L696.8,715.7 L692.3,710.5 L687.6,705.4 L682.7,700.5 L677.7,695.7 L672.5,691.2 L667.1,686.8 L661.6,682.5 L655.9,678.5 L650.1,674.7 L644.2,671.1 L638.1,667.8 L631.9,664.7 L625.6,661.8 L619.2,659.1 L612.7,656.7 L606.1,654.6 L599.5,652.6 L592.8,650.9 L586.0,649.5 L579.2,648.2 L572.4,647.3 L565.5,646.5 L558.6,645.9 L551.7,645.6Z" fill="none" stroke="#858585" stroke-width="4.6"/>
<g fill="none" stroke="#111" stroke-width="2.0">
<circle cx="544.8" cy="843.3" r="230.0"/>
<circle cx="544.8" cy="843.3" r="7.50"/>
<circle cx="544.8" cy="843.3" r="23.40"/>
<path d="M561.30,807.63 A39.30,39.30 0 1 1 528.30,807.63"/>
<circle cx="544.8" cy="843.3" r="55.20"/>
<circle cx="544.8" cy="843.3" r="71.10"/>
<circle cx="544.8" cy="843.3" r="87.00"/>
<circle cx="544.8" cy="843.3" r="102.90"/>
<path d="M563.40,725.97 A118.80,118.80 0 1 1 526.20,725.97"/>
<circle cx="544.8" cy="843.3" r="134.70"/>
<circle cx="544.8" cy="843.3" r="150.60"/>
<circle cx="544.8" cy="843.3" r="166.50"/>
<path d="M563.20,661.83 A182.40,182.40 0 1 1 526.40,661.83"/>
<line x1="548.55" y1="836.80" x2="659.80" y2="644.11"/>
<line x1="551.30" y1="839.55" x2="743.99" y2="728.30"/>
<line x1="552.30" y1="843.30" x2="774.80" y2="843.30"/>
<line x1="551.30" y1="847.05" x2="743.99" y2="958.30"/>
<line x1="548.55" y1="849.80" x2="659.80" y2="1042.49"/>
<line x1="544.80" y1="850.80" x2="544.80" y2="1073.30"/>
<line x1="541.05" y1="849.80" x2="429.80" y2="1042.49"/>
<line x1="538.30" y1="847.05" x2="345.61" y2="958.30"/>
<line x1="537.30" y1="843.30" x2="314.80" y2="843.30"/>
<line x1="538.30" y1="839.55" x2="345.61" y2="728.30"/>
<line x1="541.05" y1="836.80" x2="429.80" y2="644.11"/>
<line x1="544.8" y1="835.80" x2="544.8" y2="813.60"/>
<line x1="544.8" y1="794.40" x2="544.8" y2="734.70"/>
<line x1="544.8" y1="714.30" x2="544.8" y2="671.20"/>
<line x1="544.8" y1="650.60" x2="544.8" y2="613.30"/>
</g>
<path d="M544.8,644.8 L537.9,644.9 L531.0,645.2 L524.0,645.8 L517.2,646.6 L510.3,647.6 L503.5,648.8 L496.7,650.3 L489.9,652.0 L483.3,653.9 L476.6,656.0 L470.1,658.4 L463.7,661.1 L457.3,664.0 L451.1,667.1 L445.0,670.4 L439.0,674.0 L433.2,677.9 L427.6,681.9 L422.0,686.2 L416.7,690.6 L411.4,695.2 L406.4,699.9 L401.4,704.8 L396.6,709.9 L392.0,715.1 L387.5,720.4 L383.2,725.9 L379.1,731.6 L375.2,737.4 L371.6,743.3 L368.2,749.4 L365.0,755.6 L362.1,762.0 L359.4,768.4 L357.0,774.9 L354.7,781.5 L352.7,788.2 L350.9,795.0 L349.4,801.8 L348.0,808.6 L346.9,815.5 L345.9,822.4 L345.2,829.3 L344.7,836.3 L344.4,843.3 L344.3,850.3 L344.5,857.3 L344.8,864.3 L345.4,871.3 L346.3,878.3 L347.4,885.3 L348.7,892.2 L350.3,899.1 L352.2,905.9 L354.3,912.6 L356.7,919.3 L359.4,925.9 L362.2,932.3 L365.3,938.7 L368.7,945.0 L372.2,951.2 L375.9,957.2 L379.9,963.1 L384.1,968.9 L388.5,974.5 L393.0,979.9 L397.8,985.2 L402.8,990.4 L407.9,995.3 L413.2,1000.1 L418.7,1004.7 L424.4,1009.0 L430.2,1013.2 L436.2,1017.1 L442.3,1020.7 L448.6,1024.2 L455.0,1027.3 L461.6,1030.3 L468.2,1032.9 L474.9,1035.4 L481.7,1037.6 L488.5,1039.5 L495.4,1041.3 L502.4,1042.8 L509.4,1044.1 L516.4,1045.2 L523.5,1046.0 L530.6,1046.6 L537.7,1047.0 L544.8,1047.1 L551.9,1047.0 L559.0,1046.6 L566.1,1046.0 L573.2,1045.2 L580.2,1044.1 L587.2,1042.8 L594.2,1041.3 L601.1,1039.5 L607.9,1037.6 L614.7,1035.4 L621.4,1032.9 L628.0,1030.3 L634.6,1027.3 L641.0,1024.2 L647.2,1020.7 L653.4,1017.1 L659.4,1013.2 L665.2,1009.0 L670.9,1004.7 L676.4,1000.1 L681.7,995.3 L686.8,990.4 L691.8,985.2 L696.6,979.9 L701.1,974.5 L705.5,968.9 L709.7,963.1 L713.7,957.2 L717.4,951.2 L720.9,945.0 L724.3,938.7 L727.4,932.3 L730.2,925.9 L732.9,919.3 L735.3,912.6 L737.4,905.9 L739.3,899.1 L740.9,892.2 L742.2,885.3 L743.3,878.3 L744.2,871.3 L744.8,864.3 L745.1,857.3 L745.3,850.3 L745.2,843.3 L744.9,836.3 L744.4,829.3 L743.7,822.4 L742.7,815.5 L741.6,808.6 L740.2,801.8 L738.7,795.0 L736.9,788.2 L734.9,781.5 L732.6,774.9 L730.2,768.4 L727.5,762.0 L724.6,755.6 L721.4,749.4 L718.0,743.3 L714.4,737.4 L710.5,731.6 L706.4,725.9 L702.1,720.4 L697.6,715.1 L693.0,709.9 L688.2,704.8 L683.2,699.9 L678.2,695.2 L672.9,690.6 L667.6,686.2 L662.0,681.9 L656.4,677.9 L650.6,674.0 L644.6,670.4 L638.5,667.1 L632.3,664.0 L625.9,661.1 L619.5,658.4 L613.0,656.0 L606.3,653.9 L599.7,652.0 L592.9,650.3 L586.1,648.8 L579.3,647.6 L572.4,646.6 L565.6,645.8 L558.6,645.2 L551.7,644.9Z" fill="none" stroke="#c6c6c6" stroke-width="4.6"/>
<path d="M544.8,645.7 L537.9,645.9 L531.0,646.4 L524.2,647.2 L517.4,648.3 L510.7,649.6 L504.0,651.2 L497.4,653.0 L490.8,655.0 L484.3,657.2 L477.9,659.5 L471.6,662.2 L465.5,665.1 L459.5,668.4 L453.7,672.0 L448.1,675.9 L442.9,680.2 L437.9,684.8 L433.1,689.5 L428.5,694.4 L424.0,699.3 L419.5,704.1 L415.1,709.0 L410.8,713.9 L406.8,719.0 L402.9,724.3 L399.4,729.7 L396.2,735.3 L393.2,741.0 L390.5,746.9 L388.0,752.8 L385.8,758.8 L383.8,764.8 L381.9,770.8 L380.2,776.8 L378.7,782.8 L377.3,788.9 L376.0,794.9 L374.9,800.9 L373.9,807.0 L373.0,813.0 L372.4,819.1 L371.8,825.1 L371.5,831.2 L371.3,837.2 L371.2,843.3 L371.3,849.4 L371.6,855.4 L372.0,861.5 L372.6,867.5 L373.5,873.5 L374.5,879.5 L375.8,885.4 L377.3,891.3 L379.1,897.1 L381.1,902.9 L383.2,908.6 L385.7,914.2 L388.3,919.7 L391.1,925.0 L394.0,930.3 L397.2,935.5 L400.5,940.6 L404.0,945.6 L407.6,950.5 L411.4,955.2 L415.4,959.8 L419.6,964.3 L423.8,968.6 L428.3,972.7 L432.9,976.7 L437.6,980.5 L442.5,984.2 L447.4,987.6 L452.6,990.9 L457.8,994.0 L463.1,996.9 L468.6,999.6 L474.1,1002.0 L479.7,1004.3 L485.4,1006.4 L491.2,1008.3 L497.0,1010.1 L502.8,1011.6 L508.7,1013.0 L514.7,1014.2 L520.6,1015.2 L526.6,1016.0 L532.7,1016.6 L538.7,1017.0 L544.8,1017.1 L550.9,1017.0 L556.9,1016.6 L563.0,1016.0 L569.0,1015.2 L574.9,1014.2 L580.9,1013.0 L586.8,1011.6 L592.6,1010.1 L598.4,1008.3 L604.2,1006.4 L609.9,1004.3 L615.5,1002.0 L621.0,999.6 L626.5,996.9 L631.8,994.0 L637.0,990.9 L642.2,987.6 L647.1,984.2 L652.0,980.5 L656.7,976.7 L661.3,972.7 L665.8,968.6 L670.0,964.3 L674.2,959.8 L678.2,955.2 L682.0,950.5 L685.6,945.6 L689.1,940.6 L692.4,935.5 L695.6,930.4 L698.5,925.0 L701.3,919.7 L703.9,914.2 L706.4,908.6 L708.5,902.9 L710.5,897.1 L712.3,891.3 L713.8,885.4 L715.1,879.5 L716.1,873.5 L717.0,867.5 L717.6,861.5 L718.0,855.4 L718.3,849.4 L718.4,843.3 L718.3,837.2 L718.1,831.2 L717.8,825.1 L717.2,819.1 L716.6,813.0 L715.7,807.0 L714.7,800.9 L713.6,794.9 L712.3,788.9 L710.9,782.8 L709.4,776.8 L707.7,770.8 L705.8,764.8 L703.8,758.8 L701.6,752.8 L699.1,746.9 L696.4,741.0 L693.4,735.3 L690.2,729.7 L686.7,724.3 L682.8,719.0 L678.8,713.9 L674.5,709.0 L670.1,704.1 L665.6,699.3 L661.1,694.4 L656.5,689.5 L651.7,684.8 L646.7,680.2 L641.5,675.9 L635.9,672.0 L630.1,668.4 L624.1,665.1 L618.0,662.2 L611.7,659.5 L605.3,657.2 L598.8,655.0 L592.2,653.0 L585.6,651.2 L578.9,649.6 L572.2,648.3 L565.4,647.2 L558.6,646.4 L551.7,645.9Z" fill="none" stroke="#6a6a6a" stroke-width="4.7"/>
<line x1="544.8" y1="653.3" x2="544.8" y2="637.3" stroke="#111" stroke-width="2.0"/>
<g font-family="Liberation Sans, sans-serif" font-size="14" fill="#333" stroke="#333" stroke-width="0.3" text-anchor="middle">
<text x="544.5" y="665.9" textLength="23.4" lengthAdjust="spacingAndGlyphs">-2.0</text>
<text x="544.5" y="729.5" textLength="30.2" lengthAdjust="spacingAndGlyphs">-10.0</text>
<text x="544.5" y="809.0" textLength="30.2" lengthAdjust="spacingAndGlyphs">-20.0</text>
</g>
<g font-family="Liberation Sans, sans-serif" font-size="14" fill="#333" stroke="#333" stroke-width="0.25">
<text x="547.2" y="607.6" text-anchor="middle">0°</text>
<text x="545.6" y="1089.6" text-anchor="middle">180°</text>
<text x="307.8" y="849" text-anchor="end">90°</text>
<text x="779.3" y="847.9">270°</text>
</g>
<g stroke="#111" fill="none">
<path d="M231.9,619.7 H243.4 V825.1 H254.5" stroke-width="2"/>
<line x1="231.9" y1="648.1" x2="243.4" y2="648.1" stroke-width="1.9"/>
<line x1="231.3" y1="662.3" x2="255.5" y2="662.3" stroke-width="3"/>
<line x1="231.9" y1="676.4" x2="243.4" y2="676.4" stroke-width="1.9"/>
<line x1="231.9" y1="690.6" x2="243.4" y2="690.6" stroke-width="1.9"/>
<line x1="231.9" y1="704.8" x2="243.4" y2="704.8" stroke-width="1.9"/>
<line x1="231.3" y1="719.0" x2="255.5" y2="719.0" stroke-width="3"/>
<line x1="231.9" y1="733.1" x2="243.4" y2="733.1" stroke-width="1.9"/>
<line x1="231.9" y1="747.3" x2="243.4" y2="747.3" stroke-width="1.9"/>
<line x1="231.9" y1="761.5" x2="243.4" y2="761.5" stroke-width="1.9"/>
<line x1="231.9" y1="775.6" x2="243.4" y2="775.6" stroke-width="1.9"/>
<line x1="231.3" y1="789.8" x2="255.5" y2="789.8" stroke-width="3"/>
<line x1="231.9" y1="804.0" x2="243.4" y2="804.0" stroke-width="1.9"/>
<line x1="231.9" y1="818.1" x2="243.4" y2="818.1" stroke-width="1.9"/>
</g>
<g font-family="Liberation Sans, sans-serif" font-size="10.2" fill="#333" stroke="#333" stroke-width="0.25">
<text x="227" y="623.3" text-anchor="end">+5.0</text>
<text x="227" y="651.7" text-anchor="end">0.0</text>
<text x="227" y="665.9" text-anchor="end">-2.0</text>
<text x="227" y="680.0" text-anchor="end">-4.0</text>
<text x="227" y="694.2" text-anchor="end">-6.0</text>
<text x="227" y="708.4" text-anchor="end">-8.0</text>
<text x="227" y="722.6" text-anchor="end">-10.0</text>
<text x="227" y="736.7" text-anchor="end">-12.0</text>
<text x="227" y="750.9" text-anchor="end">-14.0</text>
<text x="227" y="765.1" text-anchor="end">-16.0</text>
<text x="227" y="779.2" text-anchor="end">-18.0</text>
<text x="227" y="793.4" text-anchor="end">-20.0</text>
<text x="227" y="807.6" text-anchor="end">-22.0</text>
<text x="227" y="821.7" text-anchor="end">-24.0</text>
<text x="257.5" y="828.7">-25.0</text>
</g>
<text x="204" y="867.5" font-family="Liberation Sans, sans-serif" font-size="13.9" fill="#333" stroke="#333" stroke-width="0.2">dB rel. 1V/Pa</text>
<g font-family="Liberation Sans, sans-serif" font-size="16.4" fill="#333" stroke="#333" stroke-width="0.2">
<text x="204" y="937">Frequency:</text>
<text x="267.6" y="961.9" text-anchor="end">500 Hz:</text>
<rect x="281.2" y="953.8" width="20.4" height="7.9" rx="1.6" fill="#d6d6d6" stroke="#1a1a1a" stroke-width="1.8" paint-order="normal"/>
<text x="267.6" y="979.7" text-anchor="end">1000 Hz:</text>
<rect x="281.2" y="971.6" width="20.4" height="7.9" rx="1.6" fill="#a2a2a2" stroke="#1a1a1a" stroke-width="1.8" paint-order="normal"/>
<text x="267.6" y="997.5" text-anchor="end">4000 Hz:</text>
<rect x="281.2" y="989.4" width="20.4" height="7.9" rx="1.6" fill="#7a7a7a" stroke="#1a1a1a" stroke-width="1.8" paint-order="normal"/>
</g>
</g>
</svg>
</body></html>
